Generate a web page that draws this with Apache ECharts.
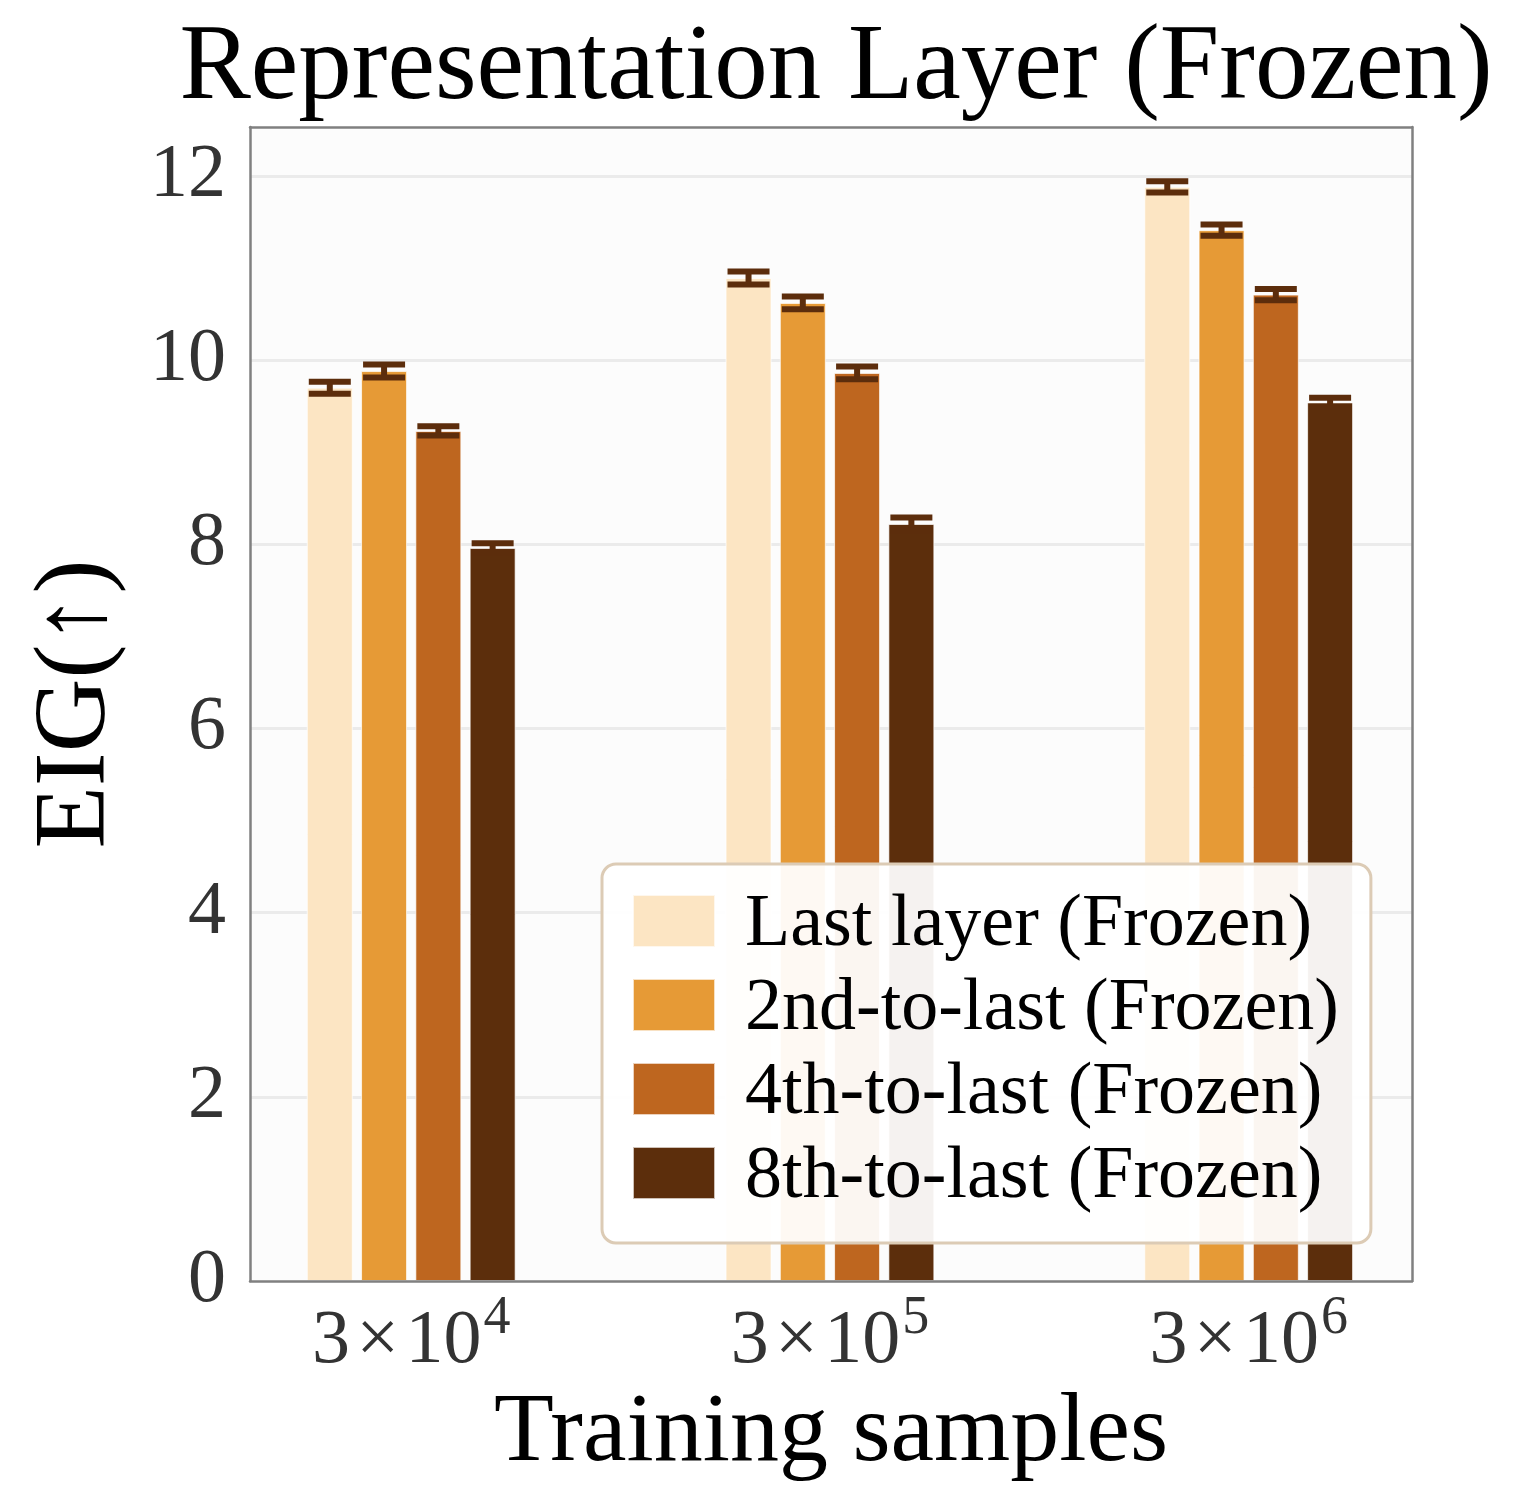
<!DOCTYPE html>
<html>
<head>
<meta charset="utf-8">
<title>Representation Layer (Frozen)</title>
<script src="https://cdn.jsdelivr.net/npm/echarts@6/dist/echarts.min.js"></script>
<style>
    html, body { margin: 0; padding: 0; background: #ffffff; }
    .chart { width: 1524px; height: 1488px; }
</style>
</head>
<body>
<div class="chart"></div>
<script>
// 数据
var groupPos = [0, 1, 2];
var groupLabels = ["4", "5", "6"]; // 3 x 10^n
var seriesNames = [
    "Last layer (Frozen)",
    "2nd-to-last (Frozen)",
    "4th-to-last (Frozen)",
    "8th-to-last (Frozen)"
];
var lastLayer = [9.70, 10.89, 11.88];
var secondLast = [9.88, 10.62, 11.41];
var fourthLast = [9.23, 9.86, 10.71];
var eighthLast = [7.96, 8.22, 9.54];
var lastLayerErr = [0.065, 0.07, 0.06];
var secondLastErr = [0.07, 0.07, 0.06];
var fourthLastErr = [0.05, 0.07, 0.06];
var eighthLastErr = [0.05, 0.07, 0.05];
var yTicks = [0, 2, 4, 6, 8, 10, 12];

var colors = ["#fce5c3", "#e69a36", "#be661f", "#5c2e0c"];
var errColor = "#5c2d0c";
var means = [lastLayer, secondLast, fourthLast, eighthLast];
var errs = [lastLayerErr, secondLastErr, fourthLastErr, eighthLastErr];

(function() {
    var myChart = echarts.init(document.querySelector(".chart"));
    var barW = 46;
    var gapPct = 18; // barGap 百分比
    var step = barW * (1 + gapPct / 100);
    var serif = "'Liberation Serif', 'DejaVu Serif', serif";
    var xMin = -0.385, xMax = 2.39, yMin = 0, yMax = 12.53;

    // 边框：只画轴线的辅助轴
    function frameAxis(pos, min, max) {
        return {
            type: "value",
            position: pos,
            min: min,
            max: max,
            axisLine: { show: true, onZero: false, lineStyle: { color: "#808080", width: 2.5 } },
            axisTick: { show: false },
            axisLabel: { show: false },
            splitLine: { show: false },
            z: 5
        };
    }

    var series = [];
    // 柱子
    means.forEach(function(arr, i) {
        series.push({
            name: seriesNames[i],
            type: "bar",
            barWidth: barW,
            barGap: gapPct + "%",
            data: arr.map(function(v, j) { return [groupPos[j], v]; }),
            itemStyle: {
                color: colors[i],
                borderColor: "rgba(255,255,255,0.7)",
                borderWidth: 1
            },
            emphasis: { disabled: true },
            z: 2
        });
    });
    // 误差棒
    means.forEach(function(arr, i) {
        series.push({
            type: "custom",
            silent: true,
            z: 3,
            data: arr.map(function(v, j) { return [groupPos[j], v, errs[i][j]]; }),
            renderItem: function(params, api) {
                var x = api.value(0), m = api.value(1), e = api.value(2);
                var off = (i - 1.5) * step;
                var top = api.coord([x, m + e]);
                var bot = api.coord([x, m - e]);
                var cx = top[0] + off;
                var half = 21;
                var st = { stroke: errColor, lineWidth: 6 };
                return {
                    type: "group",
                    children: [
                        { type: "line", shape: { x1: cx, y1: top[1], x2: cx, y2: bot[1] }, style: st },
                        { type: "line", shape: { x1: cx - half, y1: top[1], x2: cx + half, y2: top[1] }, style: st },
                        { type: "line", shape: { x1: cx - half, y1: bot[1], x2: cx + half, y2: bot[1] }, style: st }
                    ]
                };
            }
        });
    });

    var option = {
        animation: false,
        textStyle: { fontFamily: serif },
        title: {
            text: "Representation Layer (Frozen)",
            left: 831,
            textAlign: "center",
            top: 11,
            textStyle: { fontFamily: serif, fontSize: 107, fontWeight: "normal", color: "#000" }
        },
        grid: {
            left: 250,
            right: 112,
            top: 127,
            bottom: 207,
            outerBoundsMode: "none",
            show: true,
            backgroundColor: "#fcfcfc",
            borderWidth: 0
        },
        legend: {
            data: seriesNames,
            orient: "vertical",
            left: 602,
            top: 864,
            padding: [15, 32, 28, 30],
            icon: "rect",
            itemWidth: 82,
            itemHeight: 52,
            itemGap: 0,
            backgroundColor: "rgba(255,255,255,0.94)",
            borderColor: "#dccbb5",
            borderWidth: 3,
            borderRadius: 14,
            selectedMode: false,
            z: 10,
            formatter: function(name) {
                return "{t|" + name + "}";
            },
            textStyle: {
                fontFamily: serif,
                fontSize: 74,
                color: "#000",
                rich: {
                    t: {
                        fontFamily: serif,
                        fontSize: 74,
                        color: "#000",
                        lineHeight: 62,
                        padding: [10, 0, 0, 25]
                    }
                }
            }
        },
        xAxis: [{
            type: "value",
            min: xMin,
            max: xMax,
            name: "Training samples",
            nameLocation: "middle",
            nameGap: 99,
            nameTextStyle: { fontFamily: serif, fontSize: 98, color: "#000" },
            axisLine: { show: false, onZero: false },
            axisTick: { show: false },
            splitLine: { show: false },
            axisLabel: {
                customValues: groupPos,
                margin: 11,
                formatter: function(v) {
                    var k = groupPos.indexOf(Math.round(v));
                    return "{b|3\u200a\u00d7\u200a10}{s|" + groupLabels[k] + "}";
                },
                rich: {
                    b: { fontFamily: serif, fontSize: 76, color: "#333", verticalAlign: "bottom" },
                    s: { fontFamily: serif, fontSize: 54, color: "#333", verticalAlign: "top", padding: [0, 0, 34, 2] }
                }
            }
        },
            frameAxis("top", xMin, xMax),
            frameAxis("bottom", xMin, xMax)
        ],
        yAxis: [{
            type: "value",
            min: yMin,
            max: yMax,
            interval: 2,
            name: "EIG(\u2191)",
            nameLocation: "middle",
            nameGap: 122,
            nameTextStyle: { fontFamily: serif, fontSize: 102, color: "#000" },
            axisLine: { show: false, onZero: false },
            axisTick: { show: false },
            axisLabel: {
                margin: 24,
                fontFamily: serif,
                fontSize: 76,
                color: "#333",
                formatter: function(v) {
                    return yTicks.indexOf(v) >= 0 ? String(v) : "";
                }
            },
            splitLine: {
                showMinLine: false,
                showMaxLine: false,
                lineStyle: { color: "#ebebeb", width: 3 }
            }
        },
            frameAxis("right", yMin, yMax),
            frameAxis("left", yMin, yMax)
        ],
        series: series
    };

    myChart.setOption(option);
    window.addEventListener("resize", function() {
        myChart.resize();
    });
})();
</script>
</body>
</html>
